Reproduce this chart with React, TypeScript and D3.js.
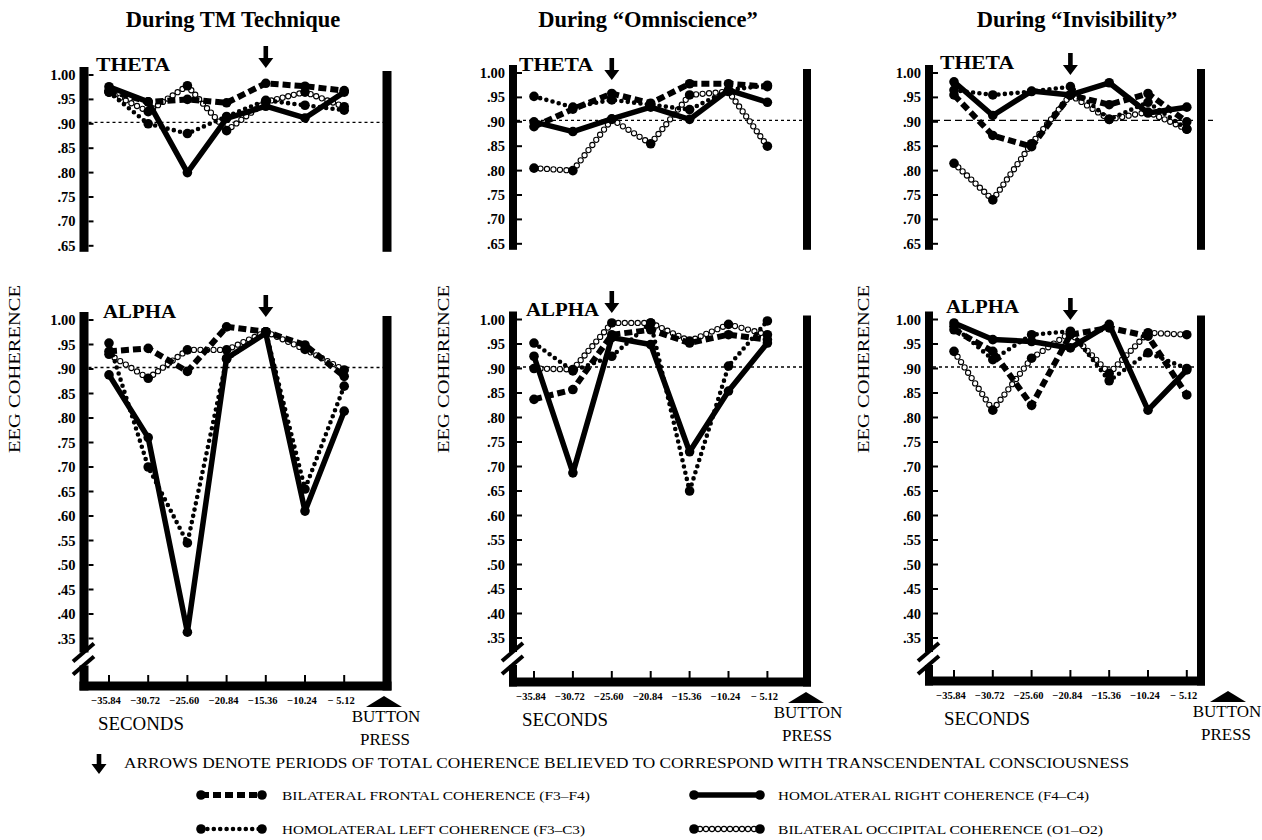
import React from "react";
import * as d3 from "d3";

const W = 1262;
const H = 840;
const FONT = "'Liberation Serif', 'Times New Roman', Times, serif";

const xTickLabels = ["−35.84", "−30.72", "−25.60", "−20.84", "−15.36", "−10.24", "− 5.12"];
const thetaTicks = [1.0, 0.95, 0.9, 0.85, 0.8, 0.75, 0.7, 0.65];
const alphaTicks = [1.0, 0.95, 0.9, 0.85, 0.8, 0.75, 0.7, 0.65, 0.6, 0.55, 0.5, 0.45, 0.4, 0.35];
const referenceLevel = 0.903;

// ---- During TM Technique ----
const tmThetaFrontal = [0.968, 0.945, 0.95, 0.943, 0.983, 0.977, 0.968];
const tmThetaLeft = [0.965, 0.9, 0.88, 0.915, 0.948, 0.938, 0.928];
const tmThetaRight = [0.976, 0.945, 0.8, 0.911, 0.936, 0.912, 0.965];
const tmThetaOccipital = [0.965, 0.925, 0.978, 0.886, 0.945, 0.965, 0.935];
const tmAlphaFrontal = [0.936, 0.942, 0.895, 0.986, 0.976, 0.949, 0.885];
const tmAlphaLeft = [0.953, 0.7, 0.545, 0.92, 0.976, 0.655, 0.865];
const tmAlphaRight = [0.888, 0.76, 0.363, 0.922, 0.973, 0.61, 0.814];
const tmAlphaOccipital = [0.93, 0.881, 0.939, 0.939, 0.976, 0.94, 0.898];

// ---- During "Omniscience" ----
const omThetaFrontal = [0.89, 0.926, 0.958, 0.938, 0.978, 0.978, 0.972];
const omThetaLeft = [0.952, 0.93, 0.945, 0.935, 0.925, 0.965, 0.975];
const omThetaRight = [0.9, 0.88, 0.906, 0.93, 0.905, 0.965, 0.94];
const omThetaOccipital = [0.805, 0.8, 0.905, 0.855, 0.955, 0.962, 0.85];
const omAlphaFrontal = [0.837, 0.857, 0.969, 0.979, 0.952, 0.969, 0.959];
const omAlphaLeft = [0.952, 0.895, 0.925, 0.993, 0.65, 0.905, 0.997];
const omAlphaRight = [0.925, 0.687, 0.963, 0.949, 0.73, 0.854, 0.952];
const omAlphaOccipital = [0.9, 0.898, 0.993, 0.993, 0.956, 0.99, 0.969];

// ---- During "Invisibility" ----
const inThetaFrontal = [0.955, 0.872, 0.849, 0.955, 0.935, 0.958, 0.9];
const inThetaLeft = [0.965, 0.955, 0.962, 0.972, 0.905, 0.94, 0.885];
const inThetaRight = [0.982, 0.913, 0.963, 0.955, 0.98, 0.918, 0.93];
const inThetaOccipital = [0.815, 0.74, 0.855, 0.955, 0.905, 0.92, 0.885];
const inAlphaFrontal = [0.979, 0.935, 0.825, 0.969, 0.983, 0.966, 0.846];
const inAlphaLeft = [0.986, 0.918, 0.969, 0.976, 0.875, 0.932, 0.9];
const inAlphaRight = [0.993, 0.959, 0.955, 0.942, 0.99, 0.815, 0.897];
const inAlphaOccipital = [0.935, 0.815, 0.921, 0.973, 0.89, 0.973, 0.969];

const panelTitles = ["During TM Technique", "During \u201cOmniscience\u201d", "During \u201cInvisibility\u201d"];
const arrowIndex = [4, 2, 3];

const legendItems = [
  { kind: "frontal", label: "BILATERAL FRONTAL COHERENCE (F3–F4)" },
  { kind: "left", label: "HOMOLATERAL LEFT COHERENCE (F3–C3)" },
  { kind: "right", label: "HOMOLATERAL RIGHT COHERENCE (F4–C4)" },
  { kind: "occ", label: "BILATERAL OCCIPITAL COHERENCE (O1–O2)" },
];
const noteText = "ARROWS DENOTE PERIODS OF TOTAL COHERENCE BELIEVED TO CORRESPOND WITH TRANSCENDENTAL CONSCIOUSNESS";

type Kind = "frontal" | "left" | "right" | "occ";

const layout = [
  { titleX: 233, x0: 109, step: 39.2, leftX: 84, rightX: 387, barW: 9, thetaY1: 75, alphaY1: 320, bottomY: 686,
    thetaLbl: [96, 71], alphaLbl: [103, 318], tipTheta: 68, tipAlpha: 317, yTitleX: 20, secondsX: 98, buttonX: 386, triX: 384 },
  { titleX: 648, x0: 534, step: 38.9, leftX: 513, rightX: 807, barW: 8, thetaY1: 73, alphaY1: 319.5, bottomY: 682,
    thetaLbl: [519, 71], alphaLbl: [526, 316], tipTheta: 80, tipAlpha: 313, yTitleX: 449, secondsX: 522, buttonX: 808, triX: 806 },
  { titleX: 1077, x0: 954, step: 38.8, leftX: 929, rightX: 1201, barW: 8, thetaY1: 73, alphaY1: 319.5, bottomY: 681,
    thetaLbl: [940, 69], alphaLbl: [946, 313], tipTheta: 75, tipAlpha: 320, yTitleX: 869, secondsX: 944, buttonX: 1227, triX: 1228 },
];

const panelData = [
  { theta: { frontal: tmThetaFrontal, left: tmThetaLeft, right: tmThetaRight, occ: tmThetaOccipital },
    alpha: { frontal: tmAlphaFrontal, left: tmAlphaLeft, right: tmAlphaRight, occ: tmAlphaOccipital } },
  { theta: { frontal: omThetaFrontal, left: omThetaLeft, right: omThetaRight, occ: omThetaOccipital },
    alpha: { frontal: omAlphaFrontal, left: omAlphaLeft, right: omAlphaRight, occ: omAlphaOccipital } },
  { theta: { frontal: inThetaFrontal, left: inThetaLeft, right: inThetaRight, occ: inThetaOccipital },
    alpha: { frontal: inAlphaFrontal, left: inAlphaLeft, right: inAlphaRight, occ: inAlphaOccipital } },
];

function openCircles(pts: [number, number][], spacing: number) {
  const out: [number, number][] = [];
  for (let i = 0; i < pts.length - 1; i++) {
    const [x1, y1] = pts[i];
    const [x2, y2] = pts[i + 1];
    const len = Math.hypot(x2 - x1, y2 - y1);
    const n = Math.max(1, Math.round(len / spacing));
    for (let j = 1; j < n; j++) {
      const t = j / n;
      out.push([x1 + (x2 - x1) * t, y1 + (y2 - y1) * t]);
    }
  }
  return out;
}

function SeriesLine({ kind, pts }: { kind: Kind; pts: [number, number][] }) {
  const d = d3.line()(pts) as string;
  const bigDots = pts.map((p, i) => <circle key={"b" + i} cx={p[0]} cy={p[1]} r={4.8} fill="#000" />);
  if (kind === "frontal") {
    return (
      <g>
        <path d={d} fill="none" stroke="#000" strokeWidth={6} strokeDasharray="8 4" />
        {bigDots}
      </g>
    );
  }
  if (kind === "right") {
    return (
      <g>
        <path d={d} fill="none" stroke="#000" strokeWidth={5.5} strokeLinejoin="round" />
        {bigDots}
      </g>
    );
  }
  if (kind === "left") {
    return (
      <g>
        <path d={d} fill="none" stroke="#000" strokeWidth={4.6} strokeDasharray="0 6.4" strokeLinecap="round" />
        {bigDots}
      </g>
    );
  }
  const circ = openCircles(pts, 6.2);
  return (
    <g>
      {circ.map((p, i) => (
        <circle key={"o" + i} cx={p[0]} cy={p[1]} r={2.6} fill="#fff" stroke="#000" strokeWidth={1.1} />
      ))}
      {bigDots}
    </g>
  );
}

function Arrow({ cx, tip, len = 22 }: { cx: number; tip: number; len?: number }) {
  const top = tip - len;
  const headH = 10;
  const path = `M${cx - 2.3},${top} L${cx + 2.3},${top} L${cx + 2.3},${tip - headH} L${cx + 7.5},${tip - headH} L${cx},${tip} L${cx - 7.5},${tip - headH} L${cx - 2.3},${tip - headH} Z`;
  return <path d={path} fill="#000" />;
}

function fmtTick(v: number) {
  return v >= 0.999 ? "1.00" : d3.format(".2f")(v).replace(/^0/, "");
}

function Panel({ idx }: { idx: number }) {
  const L = layout[idx];
  const D = panelData[idx];
  const x = d3.scaleLinear().domain([0, 6]).range([L.x0, L.x0 + 6 * L.step]);
  const yT = d3.scaleLinear().domain([0.65, 1]).range([L.thetaY1 + 0.35 * 488, L.thetaY1]);
  const yA = d3.scaleLinear().domain([0.35, 1]).range([L.alphaY1 + 0.65 * 490, L.alphaY1]);
  const idxs = d3.range(7);
  const hb = L.barW / 2;
  const kinds: Kind[] = ["occ", "left", "frontal", "right"];
  const thetaBottom = yT(0.65) + 6;
  const y35 = yA(0.35);
  const brk1 = y35 + 14;
  const brk2 = y35 + 27;

  return (
    <g>
      <text x={L.titleX} y={27} textAnchor="middle" fontFamily={FONT} fontWeight="bold" fontSize={22.5}>
        {panelTitles[idx]}
      </text>
      <text
        transform={`translate(${L.yTitleX},369) rotate(-90)`}
        textAnchor="middle"
        fontFamily={FONT}
        fontSize={16}
        textLength={168}
        lengthAdjust="spacingAndGlyphs"
      >
        EEG COHERENCE
      </text>

      <rect x={L.leftX - hb} y={L.thetaY1 - 8} width={L.barW} height={thetaBottom - (L.thetaY1 - 8)} fill="#000" />
      <rect x={L.rightX - hb} y={L.thetaY1 - 4} width={L.barW} height={thetaBottom - (L.thetaY1 - 4)} fill="#000" />
      {thetaTicks.map((t) => (
        <g key={"tt" + t}>
          <line x1={L.leftX + hb} x2={L.leftX + hb + 5} y1={yT(t)} y2={yT(t)} stroke="#000" strokeWidth={2} />
          <text x={L.leftX - hb - 4} y={yT(t) + 5} textAnchor="end" fontFamily={FONT} fontWeight="bold" fontSize={14.5}>
            {fmtTick(t)}
          </text>
        </g>
      ))}
      <line
        x1={L.leftX + hb}
        x2={L.rightX + (idx === 2 ? 12 : 0)}
        y1={yT(referenceLevel)}
        y2={yT(referenceLevel)}
        stroke="#000"
        strokeWidth={1.4}
        strokeDasharray={idx === 2 ? "7 4" : "3 3"}
      />
      <text x={L.thetaLbl[0]} y={L.thetaLbl[1]} fontFamily={FONT} fontWeight="bold" fontSize={19} textLength={74} lengthAdjust="spacingAndGlyphs">
        THETA
      </text>
      <Arrow cx={x(arrowIndex[idx])} tip={L.tipTheta} />
      {kinds.map((k) => (
        <SeriesLine key={"t" + k} kind={k} pts={(D.theta as any)[k].map((v: number, i: number) => [x(i), yT(v)])} />
      ))}

      <rect x={L.leftX - hb} y={L.alphaY1 - 8} width={L.barW} height={brk1 - (L.alphaY1 - 8)} fill="#000" />
      <rect x={L.leftX - hb} y={brk2} width={L.barW} height={L.bottomY + 4.5 - brk2} fill="#000" />
      <line x1={L.leftX - 11} y1={brk1 + 9} x2={L.leftX + 10} y2={brk1 - 9} stroke="#000" strokeWidth={4} />
      <line x1={L.leftX - 11} y1={brk2 + 9} x2={L.leftX + 10} y2={brk2 - 9} stroke="#000" strokeWidth={4} />
      <rect x={L.rightX - hb} y={L.alphaY1 - 4} width={L.barW} height={L.bottomY + 4.5 - (L.alphaY1 - 4)} fill="#000" />
      <rect x={L.leftX - hb} y={L.bottomY - 4.5} width={L.rightX - L.leftX + L.barW} height={9} fill="#000" />
      {alphaTicks.map((t) => (
        <g key={"at" + t}>
          <line x1={L.leftX + hb} x2={L.leftX + hb + 5} y1={yA(t)} y2={yA(t)} stroke="#000" strokeWidth={2} />
          <text x={L.leftX - hb - 4} y={yA(t) + 5} textAnchor="end" fontFamily={FONT} fontWeight="bold" fontSize={14.5}>
            {fmtTick(t)}
          </text>
        </g>
      ))}
      <line
        x1={L.leftX + hb}
        x2={L.rightX}
        y1={yA(referenceLevel)}
        y2={yA(referenceLevel)}
        stroke="#000"
        strokeWidth={1.4}
        strokeDasharray="3 3"
      />
      <text x={L.alphaLbl[0]} y={L.alphaLbl[1]} fontFamily={FONT} fontWeight="bold" fontSize={19} textLength={73} lengthAdjust="spacingAndGlyphs">
        ALPHA
      </text>
      <Arrow cx={x(arrowIndex[idx])} tip={L.tipAlpha} />
      {kinds.map((k) => (
        <SeriesLine key={"a" + k} kind={k} pts={(D.alpha as any)[k].map((v: number, i: number) => [x(i), yA(v)])} />
      ))}

      {idxs.map((i) => (
        <g key={"x" + i}>
          <line x1={x(i)} x2={x(i)} y1={L.bottomY - 4} y2={L.bottomY - 11} stroke="#000" strokeWidth={2} />
          <text x={x(i) - 3} y={L.bottomY + 18} textAnchor="middle" fontFamily={FONT} fontWeight="bold" fontSize={10.5}>
            {xTickLabels[i]}
          </text>
        </g>
      ))}
      <path
        d={`M${L.triX - 18},${L.bottomY + 21} L${L.triX},${L.bottomY + 10} L${L.triX + 18},${L.bottomY + 21} Z`}
        fill="#000"
      />
      <text x={L.secondsX} y={L.bottomY + 44} fontFamily={FONT} fontSize={18} textLength={86} lengthAdjust="spacingAndGlyphs">
        SECONDS
      </text>
      <text x={L.buttonX} y={L.bottomY + 36} textAnchor="middle" fontFamily={FONT} fontSize={17}>
        BUTTON
      </text>
      <text x={L.buttonX - 1} y={L.bottomY + 59} textAnchor="middle" fontFamily={FONT} fontSize={17}>
        PRESS
      </text>
    </g>
  );
}

function LegendSample({ kind, x1, x2, y }: { kind: Kind; x1: number; x2: number; y: number }) {
  const sx = d3.scaleLinear().domain([0, 1]).range([x1, x2]);
  const pts: [number, number][] = [[sx(0), y], [sx(1), y]];
  return <SeriesLine kind={kind} pts={pts} />;
}

export default function App() {
  const legendPos = [
    { sx: [201, 262], tx: 282, y: 795, w: 308 },
    { sx: [201, 262], tx: 282, y: 829, w: 303 },
    { sx: [694, 760], tx: 778, y: 795, w: 311 },
    { sx: [694, 760], tx: 778, y: 829, w: 325 },
  ];
  return (
    <svg
      width={W}
      height={H}
      viewBox={`0 0 ${W} ${H}`}
      style={{ position: "absolute", left: 0, top: 0, display: "block", background: "#fff" }}
    >
      <rect x={0} y={0} width={W} height={H} fill="#fff" />
      {[0, 1, 2].map((i) => (
        <Panel key={i} idx={i} />
      ))}
      <Arrow cx={99} tip={774} len={20} />
      <text x={124} y={768} fontFamily={FONT} fontSize={14.5} textLength={1005} lengthAdjust="spacingAndGlyphs">
        {noteText}
      </text>
      {legendItems.map((it, i) => (
        <g key={it.kind}>
          <LegendSample kind={it.kind as Kind} x1={legendPos[i].sx[0]} x2={legendPos[i].sx[1]} y={legendPos[i].y} />
          <text
            x={legendPos[i].tx}
            y={legendPos[i].y + 5}
            fontFamily={FONT}
            fontSize={13}
            textLength={legendPos[i].w}
            lengthAdjust="spacingAndGlyphs"
          >
            {it.label}
          </text>
        </g>
      ))}
    </svg>
  );
}
